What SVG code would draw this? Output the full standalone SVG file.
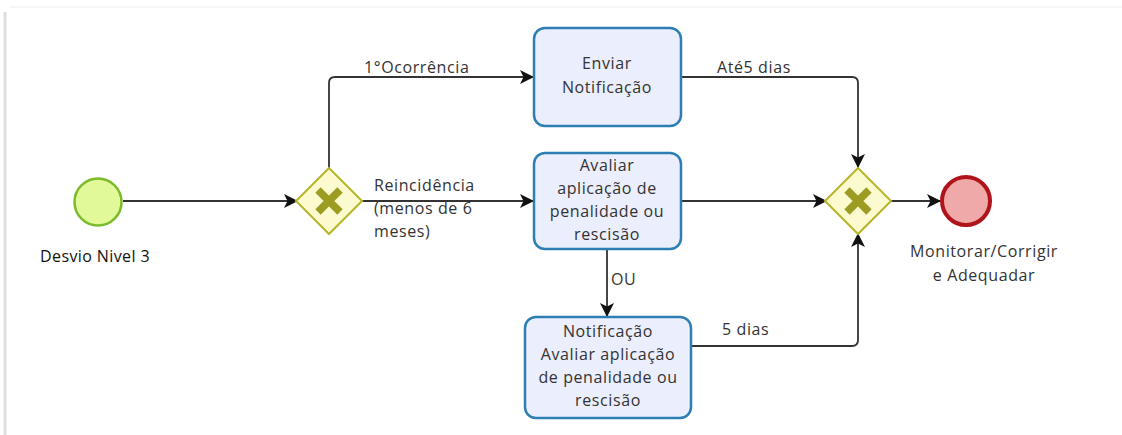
<svg xmlns="http://www.w3.org/2000/svg" width="1122" height="435" viewBox="0 0 1122 435">
<defs>
<marker id="arr" markerUnits="userSpaceOnUse" markerWidth="14" markerHeight="14" refX="13" refY="7" orient="auto">
<path d="M0,0 L14,7 L0,14 L3.5,7 z" fill="#111"/>
</marker>
<style>
.t{font-family:"Open Sans","Liberation Sans",sans-serif;font-size:16px;fill:#333;letter-spacing:0.6px}
.c{text-anchor:middle}
.task{fill:#ebeefc;stroke:#2d7fb3;stroke-width:2.5}
.gw{fill:#fbfbcf;stroke:#b7b52a;stroke-width:2}
.gx{stroke:#9c9c22;stroke-width:7.5;stroke-linecap:butt}
.edge{fill:none;stroke:#333;stroke-width:1.8;marker-end:url(#arr)}
</style>
</defs>
<rect width="1122" height="435" fill="#fff"/>
<line x1="5" y1="12" x2="5" y2="435" stroke="#dedede" stroke-width="3"/>
<line x1="10" y1="7" x2="1122" y2="7" stroke="#f6f6f6" stroke-width="2"/>

<g id="connectors">
<path class="edge" d="M123,201 H297"/>
<path class="edge" d="M329,168 V83 Q329,77 335,77 H533"/>
<path class="edge" d="M362,201 H533"/>
<path class="edge" d="M681,77 H852 Q858,77 858,83 V167"/>
<path class="edge" d="M681,201 H826"/>
<path class="edge" d="M891,201 H940"/>
<path class="edge" d="M607,249 V316"/>
<path class="edge" d="M691,346 H852 Q858,346 858,340 V234"/>
<text class="t" x="364" y="73">1°Ocorrência</text>
<text class="t" x="374" y="191">Reincidência</text>
<text class="t" x="374" y="214">(menos de 6</text>
<text class="t" x="374" y="237">meses)</text>
<text class="t" x="717" y="73">Até5 dias</text>
<text class="t" x="611" y="285">OU</text>
<text class="t" x="722" y="335">5 dias</text>
</g>

<g id="start">
<circle cx="98" cy="202" r="23.5" fill="#e2f99a" stroke="#7cbb2c" stroke-width="2.5"/>
<text class="t" x="40" y="262" style="fill:#111;letter-spacing:0.4px">Desvio Nivel 3</text>
</g>

<g id="gateway1">
<path class="gw" d="M329,168 L362,201 L329,234 L296,201 z"/>
<path class="gx" d="M318,190 L340,212 M340,190 L318,212"/>
</g>

<g id="task-enviar">
<rect class="task" x="534" y="28" width="147" height="98" rx="11"/>
<text class="t c" x="607" y="69">Enviar</text>
<text class="t c" x="607" y="93">Notificação</text>
</g>

<g id="task-avaliar">
<rect class="task" x="534" y="153" width="147" height="96" rx="11"/>
<text class="t c" x="607" y="171">Avaliar</text>
<text class="t c" x="607" y="194">aplicação de</text>
<text class="t c" x="607" y="217">penalidade ou</text>
<text class="t c" x="607" y="240">rescisão</text>
</g>

<g id="task-notificacao">
<rect class="task" x="525" y="317" width="166" height="101" rx="11"/>
<text class="t c" x="608" y="337">Notificação</text>
<text class="t c" x="608" y="360">Avaliar aplicação</text>
<text class="t c" x="608" y="383">de penalidade ou</text>
<text class="t c" x="608" y="406">rescisão</text>
</g>

<g id="gateway2">
<path class="gw" d="M858,168 L891,201 L858,234 L825,201 z"/>
<path class="gx" d="M847,190 L869,212 M869,190 L847,212"/>
</g>

<g id="end">
<circle cx="966" cy="201" r="24" fill="#f0a9a9" stroke="#b0141a" stroke-width="4"/>
<text class="t c" x="984" y="257">Monitorar/Corrigir</text>
<text class="t c" x="984" y="281">e Adequadar</text>
</g>
</svg>
